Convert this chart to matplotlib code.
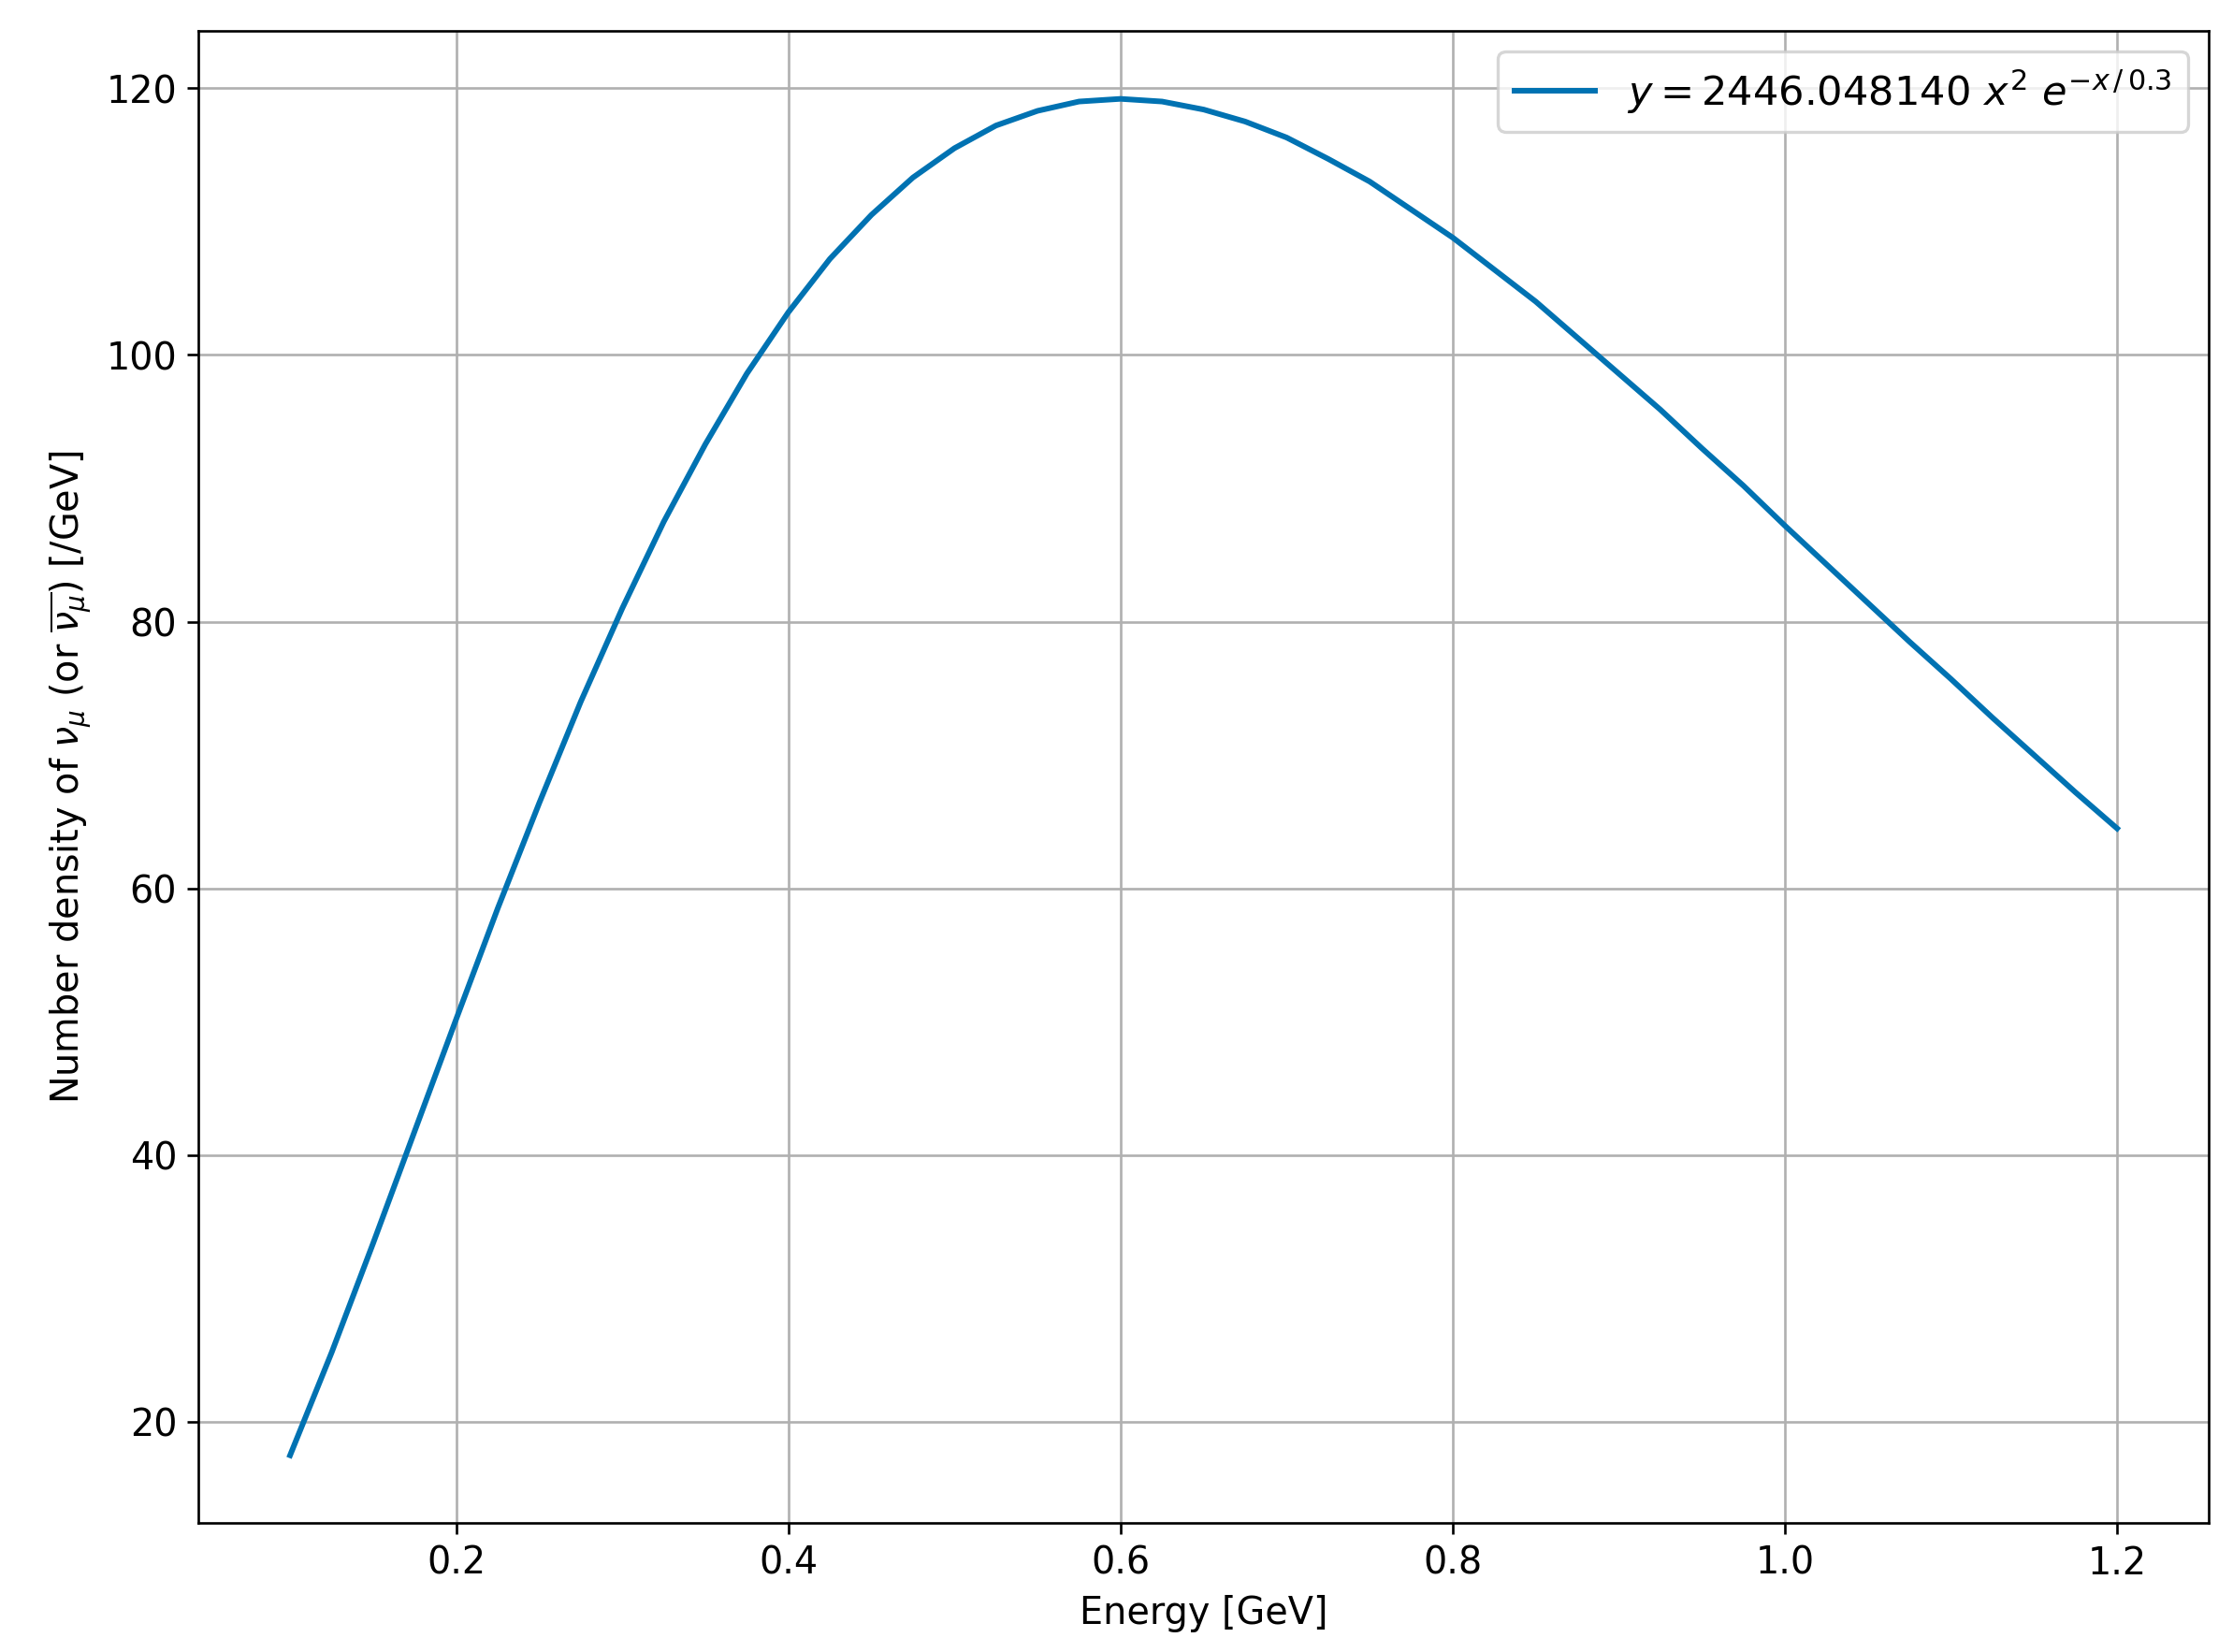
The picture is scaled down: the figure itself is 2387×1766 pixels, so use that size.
import matplotlib
matplotlib.use("Agg")
import matplotlib.pyplot as plt

# values (every 0.025 GeV)
energy = [0.100, 0.125, 0.150, 0.175, 0.200, 0.225, 0.250, 0.275, 0.300, 0.325,
          0.350, 0.375, 0.400, 0.425, 0.450, 0.475, 0.500, 0.525, 0.550, 0.575,
          0.600, 0.625, 0.650, 0.675, 0.700, 0.725, 0.750, 0.775, 0.800, 0.825,
          0.850, 0.875, 0.900, 0.925, 0.950, 0.975, 1.000, 1.025, 1.050, 1.075,
          1.100, 1.125, 1.150, 1.175, 1.200]
density = [17.5, 25.2, 33.4, 41.8, 50.2, 58.5, 66.4, 74.0, 81.0, 87.5,
           93.3, 98.6, 103.2, 107.2, 110.5, 113.3, 115.5, 117.2, 118.3, 119.0,
           119.2, 119.0, 118.4, 117.5, 116.3, 114.7, 113.0, 110.9, 108.8, 106.4,
           104.0, 101.3, 98.6, 95.9, 93.0, 90.2, 87.2, 84.3, 81.4, 78.5,
           75.7, 72.8, 70.0, 67.2, 64.5]
label = r"$y = 2446.048140\ x^2\ e^{-x\,/\,0.3}$"

plt.rcParams["font.size"] = 12
fig, ax = plt.subplots(figsize=(10, 7.4), dpi=238.7)
ax.plot(energy, density, color="#0072b2", lw=1.8, label=label)
ax.set_xlabel("Energy [GeV]")
ax.set_ylabel(r"Number density of $\nu_\mu$ (or $\overline{\nu_\mu}$) [/GeV]")
ax.grid(True)
ax.legend(loc="upper right", fontsize=13)
fig.subplots_adjust(left=0.089, right=0.989, top=0.981, bottom=0.078)
fig.savefig("out.png")
